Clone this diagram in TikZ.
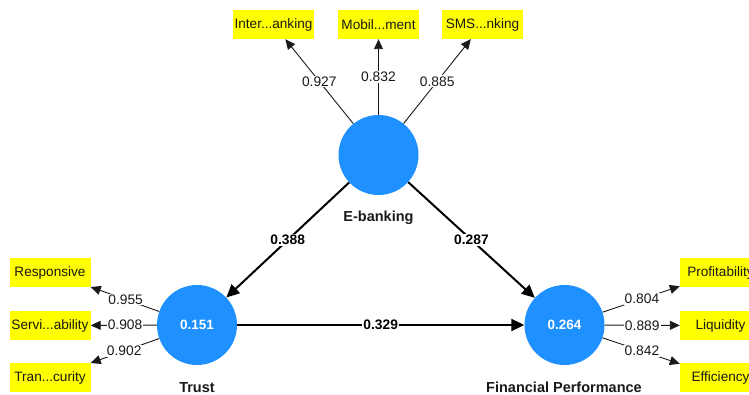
\documentclass[tikz,border=0pt]{standalone}
\usepackage{fontspec}
\setmainfont{Liberation Sans}
\usetikzlibrary{arrows.meta}
\definecolor{lvblue}{RGB}{30,144,255}
\definecolor{indyellow}{RGB}{255,255,0}
\definecolor{ink}{RGB}{25,25,25}
\tikzset{
  latent/.style={circle, fill=lvblue, draw=none, minimum size=80pt, inner sep=0pt,
    text=white, font=\fontsize{13.5}{15}\selectfont\bfseries},
  indicator/.style={rectangle, fill=indyellow, draw=none, minimum width=81pt,
    minimum height=29pt, inner sep=0pt, text=ink, font=\fontsize{13.6}{15}\selectfont},
  lvname/.style={text=ink, font=\fontsize{14.5}{16}\selectfont\bfseries},
  loading/.style={draw=ink, line width=0.9pt, -{Triangle[length=10pt,width=9pt]}},
  pathline/.style={draw=black, line width=2pt, -{Triangle[length=13pt,width=12pt]}},
  lval/.style={fill=white, inner sep=1pt, text=ink, font=\fontsize{13.8}{15}\selectfont},
  pval/.style={fill=white, inner sep=1pt, text=black, font=\fontsize{13.8}{15}\selectfont\bfseries},
}
\begin{document}
\begin{tikzpicture}[x=1pt, y=-1pt]
  \useasboundingbox (0,0) rectangle (749,395);
  \clip (0,0) rectangle (749,395);

  % latent variables
  \node[latent] (eb) at (378.5,155) {};
  \node[latent] (tr) at (197,325) {0.151};
  \node[latent] (fp) at (564.5,325) {0.264};

  \node[lvname] (ebname) at (378.5,218) {E-banking};
  \node[lvname] (trname) at (197,388) {Trust};
  \node[lvname] (fpname) at (564,387) {Financial Performance};

  % indicators of E-banking
  \node[indicator] (ib) at (273.5,24.5) {Inter...anking};
  \node[indicator] (mb) at (378.5,24.5) {Mobil...ment};
  \node[indicator] (sb) at (482.5,24.5) {SMS...nking};

  % indicators of Trust
  \node[indicator] (rs) at (50,272.5) {Responsive};
  \node[indicator] (sv) at (50,325.5) {Servi...ability};
  \node[indicator] (ts) at (50,377.5) {Tran...curity};

  % indicators of Financial Performance (the column runs past the right edge)
  \node[indicator] (pr) at (720.5,272.5) {Profitability};
  \node[indicator] (lq) at (720.5,325.5) {Liquidity};
  \node[indicator] (ef) at (720.5,377.5) {Efficiency};

  % outer loadings
  \draw[loading] (eb) -- node[lval, pos=0.5] {0.927} (ib);
  \draw[loading] (eb) -- node[lval, pos=0.5] {0.832} (mb);
  \draw[loading] (eb) -- node[lval, pos=0.5] {0.885} (sb);

  \draw[loading] (tr) -- node[lval, pos=0.49] {0.955} (rs);
  \draw[loading] (tr) -- node[lval, pos=0.48] {0.908} (sv);
  \draw[loading] (tr) -- node[lval, pos=0.51] {0.902} (ts);

  \draw[loading] (fp) -- node[lval, pos=0.51] {0.804} (pr);
  \draw[loading] (fp) -- node[lval, pos=0.50] {0.889} (lq);
  \draw[loading] (fp) -- node[lval, pos=0.51] {0.842} (ef);

  % path coefficients
  \draw[pathline] (eb) -- node[pval] {0.388} (tr);
  \draw[pathline] (eb) -- node[pval] {0.287} (fp);
  \draw[pathline] (tr) -- node[pval] {0.329} (fp);
\end{tikzpicture}
\end{document}
